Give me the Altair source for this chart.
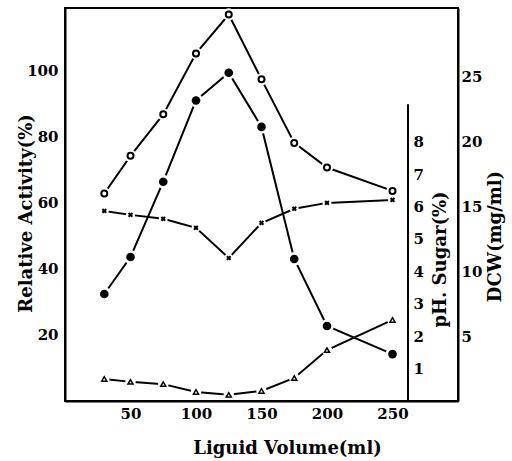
import altair as alt
import pandas as pd

# Liquid volume in the flask (ml) and the measured series
volume = [30, 50, 75, 100, 125, 150, 175, 200, 250]
activity = [32.4, 43.6, 66.4, 91.0, 99.4, 83.0, 43.0, 22.7, 14.2]   # relative activity (%)
dcw = [16.0, 18.9, 22.1, 26.8, 29.8, 24.8, 19.9, 18.0, 16.2]         # dry cell weight (mg/ml)
ph = [5.86, 5.74, 5.62, 5.34, 4.41, 5.49, 5.93, 6.11, 6.20]          # pH
sugar = [0.68, 0.59, 0.52, 0.28, 0.19, 0.31, 0.71, 1.57, 2.50]       # residual sugar (%)

# Axis tick labels
x_ticks = [50, 100, 150, 200, 250]
activity_ticks = [20, 40, 60, 80, 100]
ph_ticks = [1, 2, 3, 4, 5, 6, 7, 8]
dcw_ticks = [5, 10, 15, 20, 25]

# Extent of the drawn pH / sugar axis line
ph_axis_lo = [0]
ph_axis_hi = [9.15]

df = pd.DataFrame({"volume": volume, "activity": activity, "dcw": dcw,
                   "ph": ph, "sugar": sugar})

FONT = "DejaVu Serif"
W, H = 393, 393

x_scale = alt.Scale(domain=[0, 300], nice=False, zero=False)
act_scale = alt.Scale(domain=[0, 119], nice=False, zero=False)
dcw_scale = alt.Scale(domain=[0, 30.3], nice=False, zero=False)
ph_scale = alt.Scale(domain=[0, 12.12], nice=False, zero=False)

x_axis = alt.Axis(values=x_ticks, title="Liguid Volume(ml)", labelPadding=5,
                  titleX=222, titleY=52, titleAlign="center",
                  titleBaseline="alphabetic")
left_axis = alt.Axis(orient="left", values=activity_ticks,
                     title="Relative Activity(%)", labelPadding=7,
                     titleAngle=270, titleX=-34, titleY=205,
                     titleAlign="center", titleBaseline="alphabetic")
dcw_axis = alt.Axis(orient="right", values=dcw_ticks, title="DCW(mg/ml)",
                    labelPadding=3, titleAngle=270, titleX=42, titleY=228,
                    titleAlign="center", titleBaseline="alphabetic")
ph_axis = alt.Axis(orient="right", offset=-50, values=ph_ticks,
                   title="pH. Sugar(%)", labelPadding=5, domain=False,
                   titleAngle=270, titleX=37, titleY=251,
                   titleAlign="center", titleBaseline="alphabetic")

base = alt.Chart(df)

# every layer carries the same x definition so the shared axis merges cleanly
x_enc = alt.X("volume:Q", scale=x_scale, axis=x_axis)


def series(field, scale, marker, halo_size, axis=None):
    y_axis = alt.Y(f"{field}:Q", scale=scale, axis=axis)
    y_plain = alt.Y(f"{field}:Q", scale=scale, axis=None)
    line = base.mark_line(color="black", strokeWidth=2).encode(
        x=x_enc, y=y_axis)
    halo = base.mark_point(shape="circle", filled=True, color="white",
                           opacity=1, size=halo_size).encode(x=x_enc, y=y_plain)
    pts = marker.encode(x=x_enc, y=y_plain)
    return [line, halo, pts]


layers = []
layers += series("activity", act_scale,
                 base.mark_point(shape="circle", filled=True, color="black",
                                 opacity=1, size=75),
                 190, axis=left_axis)
layers += series("dcw", dcw_scale,
                 base.mark_point(shape="circle", filled=False, color="black",
                                 opacity=1, size=36, strokeWidth=2),
                 150, axis=dcw_axis)
layers += series("ph", ph_scale,
                 base.mark_point(shape="cross", angle=45, filled=True,
                                 color="black", opacity=1, size=28),
                 80, axis=ph_axis)
layers += series("sugar", ph_scale,
                 base.mark_point(shape="triangle-up", filled=False,
                                 color="black", opacity=1, size=26,
                                 strokeWidth=1.5),
                 110)

ph_line = alt.Chart(pd.DataFrame({"lo": ph_axis_lo, "hi": ph_axis_hi})).mark_rule(
    color="black", strokeWidth=2).encode(
    x=alt.value(W - 50),
    y=alt.Y("lo:Q", scale=ph_scale, axis=None),
    y2="hi:Q")
layers.append(ph_line)

chart = alt.layer(*layers).resolve_scale(y="independent").properties(
    width=W, height=H,
    autosize=alt.AutoSizeParams(type="none"),
    padding={"left": 65, "top": 8, "right": 54, "bottom": 60},
    background="white",
).configure_axis(
    labelFont=FONT, labelFontSize=15, labelFontWeight="bold", labelColor="black",
    titleFont=FONT, titleFontSize=18, titleFontWeight="bold", titleColor="black",
    domainColor="black", domainWidth=2, ticks=False, grid=False,
).configure_view(stroke="black", strokeWidth=2)

chart.save("out.html", embed_options={"renderer": "svg", "actions": False})
